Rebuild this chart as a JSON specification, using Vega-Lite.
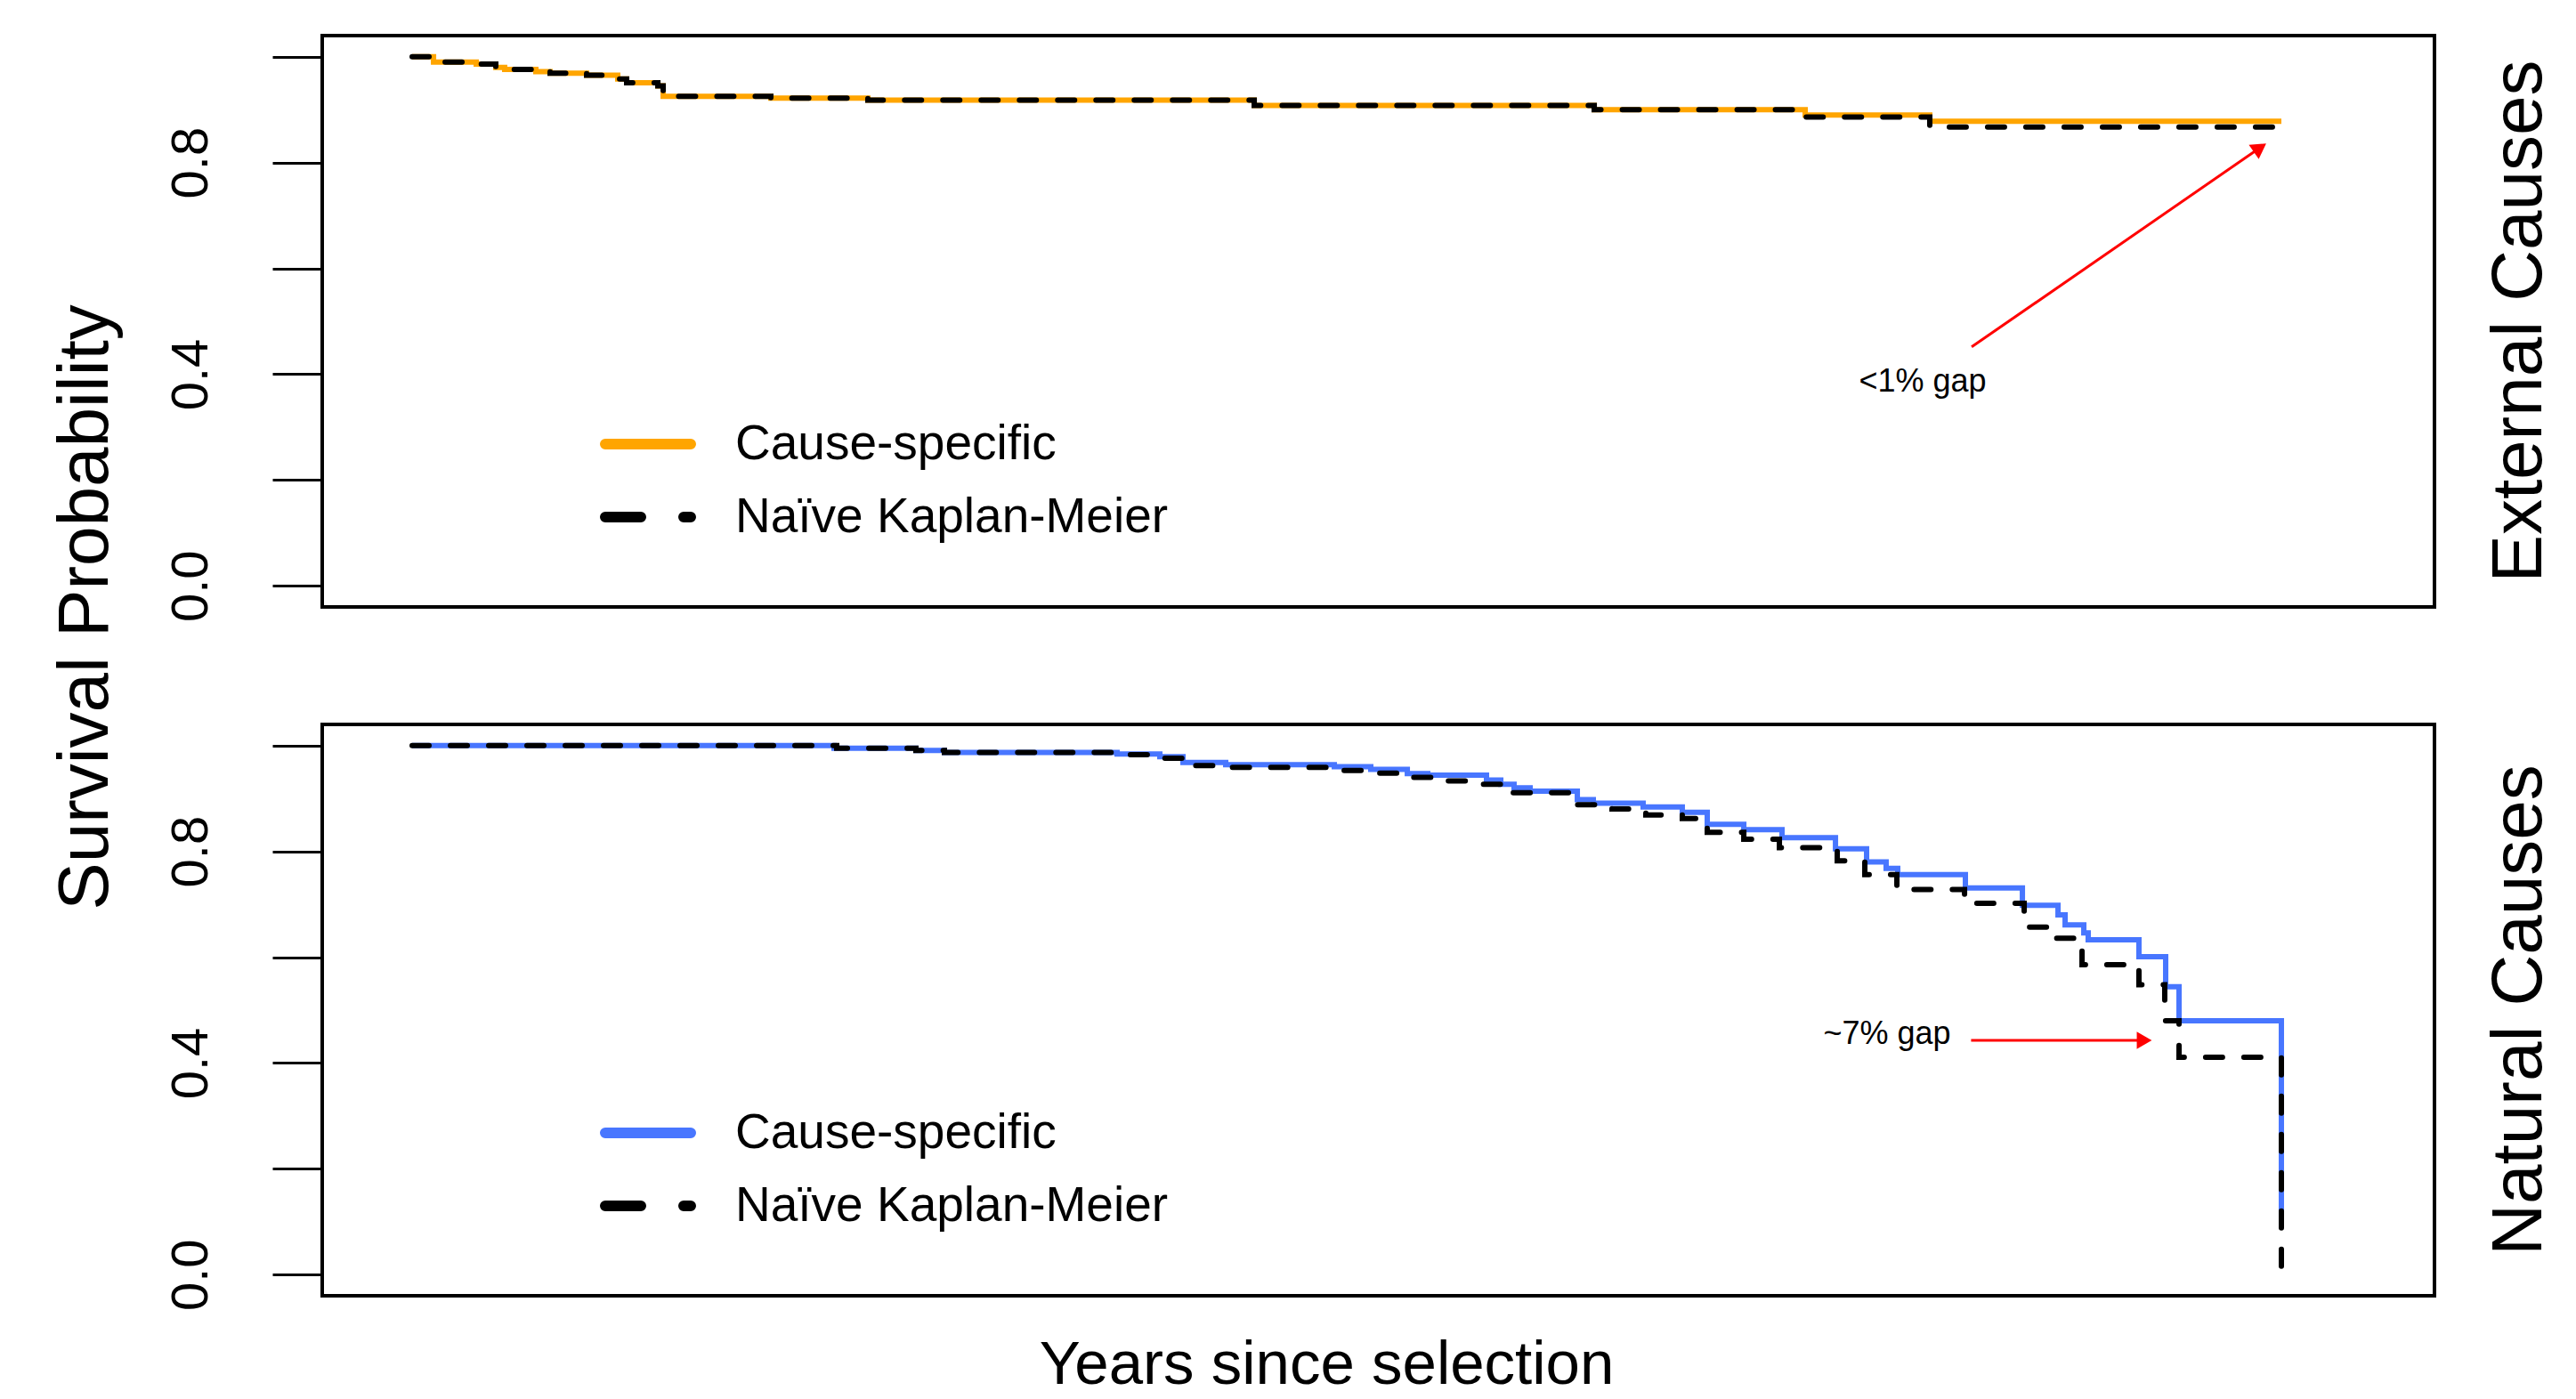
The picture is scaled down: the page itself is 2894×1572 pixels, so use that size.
{
  "$schema": "https://vega.github.io/schema/vega-lite/v6.json",
  "background": "white",
  "padding": {"left": 54, "top": 38, "right": 5, "bottom": 0},
  "config": {
    "view": {"stroke": "black", "strokeWidth": 4},
    "axis": {"grid": false},
    "font": "Liberation Sans"
  },
  "datasets": {
    "curves": [
      {"panel": "External", "method": "Cause-specific", "t": 0, "s": 1.0},
      {"panel": "External", "method": "Cause-specific", "t": 0.229, "s": 0.990},
      {"panel": "External", "method": "Cause-specific", "t": 0.686, "s": 0.986},
      {"panel": "External", "method": "Cause-specific", "t": 0.895, "s": 0.980},
      {"panel": "External", "method": "Cause-specific", "t": 0.990, "s": 0.976},
      {"panel": "External", "method": "Cause-specific", "t": 1.324, "s": 0.972},
      {"panel": "External", "method": "Cause-specific", "t": 1.476, "s": 0.969},
      {"panel": "External", "method": "Cause-specific", "t": 1.867, "s": 0.965},
      {"panel": "External", "method": "Cause-specific", "t": 2.200, "s": 0.958},
      {"panel": "External", "method": "Cause-specific", "t": 2.295, "s": 0.951},
      {"panel": "External", "method": "Cause-specific", "t": 2.629, "s": 0.945},
      {"panel": "External", "method": "Cause-specific", "t": 2.686, "s": 0.925},
      {"panel": "External", "method": "Cause-specific", "t": 3.838, "s": 0.922},
      {"panel": "External", "method": "Cause-specific", "t": 4.876, "s": 0.918},
      {"panel": "External", "method": "Cause-specific", "t": 9.010, "s": 0.908},
      {"panel": "External", "method": "Cause-specific", "t": 12.648, "s": 0.900},
      {"panel": "External", "method": "Cause-specific", "t": 14.905, "s": 0.890},
      {"panel": "External", "method": "Cause-specific", "t": 16.238, "s": 0.878},
      {"panel": "External", "method": "Cause-specific", "t": 20.0, "s": 0.878},
      {"panel": "External", "method": "Naïve Kaplan-Meier", "t": 0, "s": 1.0},
      {"panel": "External", "method": "Naïve Kaplan-Meier", "t": 0.229, "s": 0.990},
      {"panel": "External", "method": "Naïve Kaplan-Meier", "t": 0.686, "s": 0.986},
      {"panel": "External", "method": "Naïve Kaplan-Meier", "t": 0.895, "s": 0.980},
      {"panel": "External", "method": "Naïve Kaplan-Meier", "t": 0.990, "s": 0.976},
      {"panel": "External", "method": "Naïve Kaplan-Meier", "t": 1.324, "s": 0.972},
      {"panel": "External", "method": "Naïve Kaplan-Meier", "t": 1.476, "s": 0.969},
      {"panel": "External", "method": "Naïve Kaplan-Meier", "t": 1.867, "s": 0.965},
      {"panel": "External", "method": "Naïve Kaplan-Meier", "t": 2.200, "s": 0.958},
      {"panel": "External", "method": "Naïve Kaplan-Meier", "t": 2.295, "s": 0.951},
      {"panel": "External", "method": "Naïve Kaplan-Meier", "t": 2.629, "s": 0.945},
      {"panel": "External", "method": "Naïve Kaplan-Meier", "t": 2.686, "s": 0.925},
      {"panel": "External", "method": "Naïve Kaplan-Meier", "t": 3.838, "s": 0.922},
      {"panel": "External", "method": "Naïve Kaplan-Meier", "t": 4.876, "s": 0.918},
      {"panel": "External", "method": "Naïve Kaplan-Meier", "t": 9.010, "s": 0.908},
      {"panel": "External", "method": "Naïve Kaplan-Meier", "t": 12.648, "s": 0.900},
      {"panel": "External", "method": "Naïve Kaplan-Meier", "t": 14.905, "s": 0.886},
      {"panel": "External", "method": "Naïve Kaplan-Meier", "t": 16.238, "s": 0.867},
      {"panel": "External", "method": "Naïve Kaplan-Meier", "t": 20.0, "s": 0.867},
      {"panel": "Natural", "method": "Cause-specific", "t": 0, "s": 1.0},
      {"panel": "Natural", "method": "Cause-specific", "t": 4.514, "s": 0.995},
      {"panel": "Natural", "method": "Cause-specific", "t": 5.390, "s": 0.991},
      {"panel": "Natural", "method": "Cause-specific", "t": 5.695, "s": 0.987},
      {"panel": "Natural", "method": "Cause-specific", "t": 7.543, "s": 0.984},
      {"panel": "Natural", "method": "Cause-specific", "t": 8.000, "s": 0.979},
      {"panel": "Natural", "method": "Cause-specific", "t": 8.248, "s": 0.968},
      {"panel": "Natural", "method": "Cause-specific", "t": 8.705, "s": 0.964},
      {"panel": "Natural", "method": "Cause-specific", "t": 9.867, "s": 0.960},
      {"panel": "Natural", "method": "Cause-specific", "t": 10.257, "s": 0.955},
      {"panel": "Natural", "method": "Cause-specific", "t": 10.648, "s": 0.947},
      {"panel": "Natural", "method": "Cause-specific", "t": 10.867, "s": 0.944},
      {"panel": "Natural", "method": "Cause-specific", "t": 11.495, "s": 0.935},
      {"panel": "Natural", "method": "Cause-specific", "t": 11.648, "s": 0.927},
      {"panel": "Natural", "method": "Cause-specific", "t": 11.790, "s": 0.920},
      {"panel": "Natural", "method": "Cause-specific", "t": 11.962, "s": 0.914},
      {"panel": "Natural", "method": "Cause-specific", "t": 12.467, "s": 0.898},
      {"panel": "Natural", "method": "Cause-specific", "t": 12.638, "s": 0.891},
      {"panel": "Natural", "method": "Cause-specific", "t": 13.171, "s": 0.884},
      {"panel": "Natural", "method": "Cause-specific", "t": 13.590, "s": 0.874},
      {"panel": "Natural", "method": "Cause-specific", "t": 13.857, "s": 0.851},
      {"panel": "Natural", "method": "Cause-specific", "t": 14.248, "s": 0.841},
      {"panel": "Natural", "method": "Cause-specific", "t": 14.657, "s": 0.826},
      {"panel": "Natural", "method": "Cause-specific", "t": 15.229, "s": 0.805},
      {"panel": "Natural", "method": "Cause-specific", "t": 15.562, "s": 0.780},
      {"panel": "Natural", "method": "Cause-specific", "t": 15.771, "s": 0.768},
      {"panel": "Natural", "method": "Cause-specific", "t": 15.895, "s": 0.756},
      {"panel": "Natural", "method": "Cause-specific", "t": 16.619, "s": 0.731},
      {"panel": "Natural", "method": "Cause-specific", "t": 17.229, "s": 0.698},
      {"panel": "Natural", "method": "Cause-specific", "t": 17.610, "s": 0.680},
      {"panel": "Natural", "method": "Cause-specific", "t": 17.686, "s": 0.661},
      {"panel": "Natural", "method": "Cause-specific", "t": 17.886, "s": 0.646},
      {"panel": "Natural", "method": "Cause-specific", "t": 17.933, "s": 0.633},
      {"panel": "Natural", "method": "Cause-specific", "t": 18.476, "s": 0.601},
      {"panel": "Natural", "method": "Cause-specific", "t": 18.762, "s": 0.544},
      {"panel": "Natural", "method": "Cause-specific", "t": 18.905, "s": 0.480},
      {"panel": "Natural", "method": "Cause-specific", "t": 20.0, "s": 0.11},
      {"panel": "Natural", "method": "Naïve Kaplan-Meier", "t": 0, "s": 1.0},
      {"panel": "Natural", "method": "Naïve Kaplan-Meier", "t": 4.543, "s": 0.995},
      {"panel": "Natural", "method": "Naïve Kaplan-Meier", "t": 5.390, "s": 0.991},
      {"panel": "Natural", "method": "Naïve Kaplan-Meier", "t": 5.695, "s": 0.987},
      {"panel": "Natural", "method": "Naïve Kaplan-Meier", "t": 7.543, "s": 0.983},
      {"panel": "Natural", "method": "Naïve Kaplan-Meier", "t": 7.971, "s": 0.976},
      {"panel": "Natural", "method": "Naïve Kaplan-Meier", "t": 8.248, "s": 0.962},
      {"panel": "Natural", "method": "Naïve Kaplan-Meier", "t": 8.629, "s": 0.959},
      {"panel": "Natural", "method": "Naïve Kaplan-Meier", "t": 9.867, "s": 0.953},
      {"panel": "Natural", "method": "Naïve Kaplan-Meier", "t": 10.257, "s": 0.948},
      {"panel": "Natural", "method": "Naïve Kaplan-Meier", "t": 10.648, "s": 0.940},
      {"panel": "Natural", "method": "Naïve Kaplan-Meier", "t": 11.010, "s": 0.933},
      {"panel": "Natural", "method": "Naïve Kaplan-Meier", "t": 11.448, "s": 0.927},
      {"panel": "Natural", "method": "Naïve Kaplan-Meier", "t": 11.762, "s": 0.911},
      {"panel": "Natural", "method": "Naïve Kaplan-Meier", "t": 12.467, "s": 0.888},
      {"panel": "Natural", "method": "Naïve Kaplan-Meier", "t": 12.838, "s": 0.880},
      {"panel": "Natural", "method": "Naïve Kaplan-Meier", "t": 13.200, "s": 0.869},
      {"panel": "Natural", "method": "Naïve Kaplan-Meier", "t": 13.590, "s": 0.862},
      {"panel": "Natural", "method": "Naïve Kaplan-Meier", "t": 13.857, "s": 0.836},
      {"panel": "Natural", "method": "Naïve Kaplan-Meier", "t": 14.248, "s": 0.823},
      {"panel": "Natural", "method": "Naïve Kaplan-Meier", "t": 14.629, "s": 0.807},
      {"panel": "Natural", "method": "Naïve Kaplan-Meier", "t": 15.248, "s": 0.782},
      {"panel": "Natural", "method": "Naïve Kaplan-Meier", "t": 15.543, "s": 0.756},
      {"panel": "Natural", "method": "Naïve Kaplan-Meier", "t": 15.886, "s": 0.728},
      {"panel": "Natural", "method": "Naïve Kaplan-Meier", "t": 16.610, "s": 0.702},
      {"panel": "Natural", "method": "Naïve Kaplan-Meier", "t": 17.248, "s": 0.657},
      {"panel": "Natural", "method": "Naïve Kaplan-Meier", "t": 17.590, "s": 0.636},
      {"panel": "Natural", "method": "Naïve Kaplan-Meier", "t": 17.867, "s": 0.586},
      {"panel": "Natural", "method": "Naïve Kaplan-Meier", "t": 18.476, "s": 0.548},
      {"panel": "Natural", "method": "Naïve Kaplan-Meier", "t": 18.752, "s": 0.480},
      {"panel": "Natural", "method": "Naïve Kaplan-Meier", "t": 18.905, "s": 0.411},
      {"panel": "Natural", "method": "Naïve Kaplan-Meier", "t": 20.0, "s": 0.0}
    ],
    "notes": [
      {"panel": "External", "label": "<1% gap", "t": 16.162, "s": 0.3674},
      {"panel": "Natural", "label": "~7% gap", "t": 15.781, "s": 0.4366}
    ],
    "arrows": [
      {"panel": "External", "t": 16.686, "s": 0.4515, "t2": 19.771, "s2": 0.828},
      {"panel": "Natural", "t": 16.68, "s": 0.443, "t2": 18.533, "s2": 0.443}
    ]
  },
  "spacing": 132,
  "bounds": "flush",
  "resolve": {
    "scale": {"color": "independent"},
    "legend": {"color": "independent"}
  },
  "vconcat": [
    {
      "width": 2373,
      "height": 642,
      "title": {"text": "External Causes", "orient": "right", "angle": 270, "anchor": "middle", "baseline": "alphabetic", "offset": 40, "font": "Liberation Sans", "fontSize": 80, "fontWeight": "normal", "color": "black"},
      "encoding": {
        "x": {"field": "t", "type": "quantitative", "scale": {"domain": [-0.962, 21.638], "nice": false, "zero": false}, "axis": null},
        "y": {"field": "s", "type": "quantitative", "scale": {"domain": [-0.04, 1.04], "nice": false, "zero": false},
          "axis": {"values": [0, 0.2, 0.4, 0.6, 0.8, 1], "labelExpr": "(abs(datum.value) < 0.01 || abs(datum.value - 0.4) < 0.01 || abs(datum.value - 0.8) < 0.01) ? format(datum.value, '.1f') : ''", "labelOverlap": false, "domain": false, "ticks": true, "tickSize": 56, "tickWidth": 3, "tickColor": "black", "labelAngle": 270, "labelAlign": "center", "labelBaseline": "alphabetic", "labelPadding": 74, "labelFont": "Liberation Sans", "labelFontSize": 58, "labelColor": "black", "title": "Survival Probability", "titleFont": "Liberation Sans", "titleFontSize": 80, "titleFontWeight": "normal", "titleColor": "black", "titleAngle": 270, "titleAlign": "center", "titleBaseline": "alphabetic", "titleX": -242, "titleY": 642, "grid": false}}
      },
      "layer": [
        {
          "data": {"name": "curves"},
          "transform": [{"filter": "datum.panel === 'External' && datum.method === 'Cause-specific'"}],
          "mark": {"type": "line", "interpolate": "step-after", "strokeWidth": 6},
          "encoding": {
            "color": {"field": "method", "type": "nominal",
              "scale": {"domain": ["Cause-specific", "Naïve Kaplan-Meier"], "range": ["#FFA500", "#000000"]},
              "legend": {"title": null, "orient": "none", "legendX": 312, "legendY": 405, "symbolType": "stroke", "symbolSize": 9216, "symbolStrokeWidth": 12, "labelFont": "Liberation Sans", "labelFontSize": 55, "labelLimit": 2000, "labelOffset": 44, "labelColor": "black", "rowPadding": -39, "padding": 0,
                "encode": {"symbols": {"update": {"strokeDash": {"signal": "datum.value === 'Cause-specific' ? [1, 0] : [40, 48]"}, "strokeCap": {"value": "round"}}}}}
            }
          }
        },
        {
          "data": {"name": "curves"},
          "transform": [{"filter": "datum.panel === 'External' && datum.method === 'Naïve Kaplan-Meier'"}],
          "mark": {"type": "line", "interpolate": "step-after", "strokeWidth": 6, "strokeDash": [19, 24], "strokeCap": "round"},
          "encoding": {"color": {"field": "method", "type": "nominal"}}
        },
        {
          "data": {"name": "arrows"},
          "transform": [{"filter": "datum.panel === 'External'"}],
          "mark": {"type": "rule", "color": "#FF0000", "strokeWidth": 3},
          "encoding": {"x2": {"field": "t2"}, "y2": {"field": "s2"}}
        },
        {
          "data": {"name": "arrows"},
          "transform": [{"filter": "datum.panel === 'External'"}],
          "mark": {"type": "point", "shape": "triangle-right", "filled": true, "color": "#FF0000", "size": 380, "angle": 325.3, "opacity": 1},
          "encoding": {"x": {"field": "t2", "type": "quantitative"}, "y": {"field": "s2", "type": "quantitative"}}
        },
        {
          "data": {"name": "notes"},
          "transform": [{"filter": "datum.panel === 'External'"}],
          "mark": {"type": "text", "font": "Liberation Sans", "fontSize": 36, "align": "center", "baseline": "alphabetic", "color": "black"},
          "encoding": {"text": {"field": "label"}}
        }
      ]
    },
    {
      "width": 2373,
      "height": 642,
      "title": {"text": "Natural Causes", "orient": "right", "angle": 270, "anchor": "middle", "baseline": "alphabetic", "offset": 40, "font": "Liberation Sans", "fontSize": 80, "fontWeight": "normal", "color": "black"},
      "encoding": {
        "x": {"field": "t", "type": "quantitative", "scale": {"domain": [-0.962, 21.638], "nice": false, "zero": false},
          "axis": {"title": "Years since selection", "labels": false, "ticks": false, "domain": false, "grid": false, "titleFont": "Liberation Sans", "titleFontSize": 69, "titleFontWeight": "normal", "titleColor": "black", "titleX": 1128, "titleY": 98, "titleAlign": "center", "titleBaseline": "alphabetic"}},
        "y": {"field": "s", "type": "quantitative", "scale": {"domain": [-0.04, 1.04], "nice": false, "zero": false},
          "axis": {"values": [0, 0.2, 0.4, 0.6, 0.8, 1], "labelExpr": "(abs(datum.value) < 0.01 || abs(datum.value - 0.4) < 0.01 || abs(datum.value - 0.8) < 0.01) ? format(datum.value, '.1f') : ''", "labelOverlap": false, "domain": false, "ticks": true, "tickSize": 56, "tickWidth": 3, "tickColor": "black", "labelAngle": 270, "labelAlign": "center", "labelBaseline": "alphabetic", "labelPadding": 74, "labelFont": "Liberation Sans", "labelFontSize": 58, "labelColor": "black", "title": null, "grid": false}}
      },
      "layer": [
        {
          "data": {"name": "curves"},
          "transform": [{"filter": "datum.panel === 'Natural' && datum.method === 'Cause-specific'"}],
          "mark": {"type": "line", "interpolate": "step-after", "strokeWidth": 6},
          "encoding": {
            "color": {"field": "method", "type": "nominal",
              "scale": {"domain": ["Cause-specific", "Naïve Kaplan-Meier"], "range": ["#4876FF", "#000000"]},
              "legend": {"title": null, "orient": "none", "legendX": 312, "legendY": 405, "symbolType": "stroke", "symbolSize": 9216, "symbolStrokeWidth": 12, "labelFont": "Liberation Sans", "labelFontSize": 55, "labelLimit": 2000, "labelOffset": 44, "labelColor": "black", "rowPadding": -39, "padding": 0,
                "encode": {"symbols": {"update": {"strokeDash": {"signal": "datum.value === 'Cause-specific' ? [1, 0] : [40, 48]"}, "strokeCap": {"value": "round"}}}}}
            }
          }
        },
        {
          "data": {"name": "curves"},
          "transform": [{"filter": "datum.panel === 'Natural' && datum.method === 'Naïve Kaplan-Meier'"}],
          "mark": {"type": "line", "interpolate": "step-after", "strokeWidth": 6, "strokeDash": [19, 24], "strokeCap": "round"},
          "encoding": {"color": {"field": "method", "type": "nominal"}}
        },
        {
          "data": {"name": "arrows"},
          "transform": [{"filter": "datum.panel === 'Natural'"}],
          "mark": {"type": "rule", "color": "#FF0000", "strokeWidth": 3},
          "encoding": {"x2": {"field": "t2"}, "y2": {"field": "s2"}}
        },
        {
          "data": {"name": "arrows"},
          "transform": [{"filter": "datum.panel === 'Natural'"}],
          "mark": {"type": "point", "shape": "triangle-right", "filled": true, "color": "#FF0000", "size": 380, "angle": 0, "opacity": 1},
          "encoding": {"x": {"field": "t2", "type": "quantitative"}, "y": {"field": "s2", "type": "quantitative"}}
        },
        {
          "data": {"name": "notes"},
          "transform": [{"filter": "datum.panel === 'Natural'"}],
          "mark": {"type": "text", "font": "Liberation Sans", "fontSize": 36, "align": "center", "baseline": "alphabetic", "color": "black"},
          "encoding": {"text": {"field": "label"}}
        }
      ]
    }
  ]
}
